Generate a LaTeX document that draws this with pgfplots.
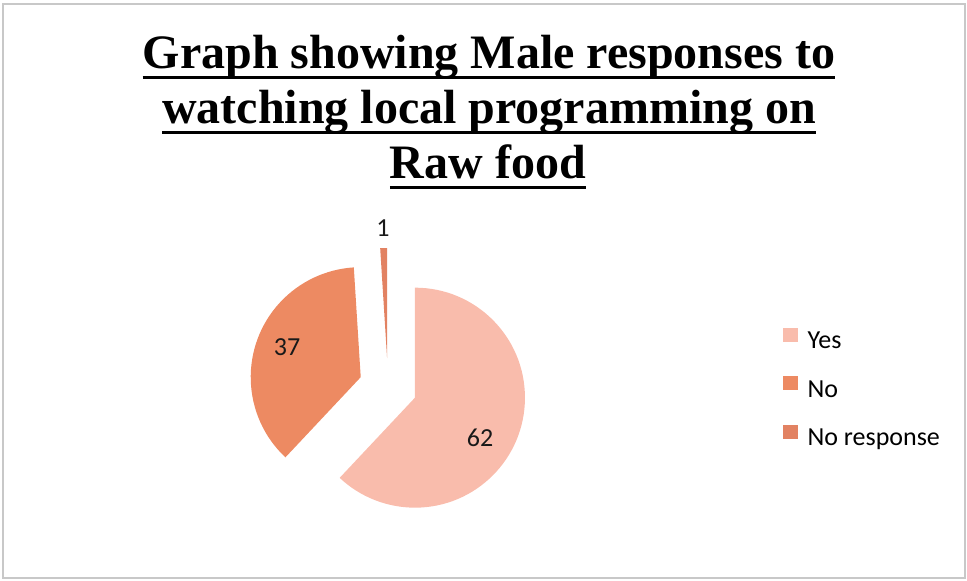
\documentclass[border=0pt]{standalone}
\usepackage{pgfplots}
\usepackage{pgfplotstable}
\pgfplotsset{compat=1.18}
\usepackage{fontspec}
\setmainfont{Carlito}
\newfontfamily\titlefont{Liberation Serif}
\definecolor{yescol}{RGB}{249,188,172}
\definecolor{nocol}{RGB}{237,138,98}
\definecolor{nrcol}{RGB}{226,130,98}
\definecolor{bordercol}{RGB}{200,200,200}
\newcommand\labelfont{\fontsize{26}{30}\selectfont}
\newcommand\legfont{\fontsize{26}{30}\selectfont}
\newcommand\ttlfont{\titlefont\bfseries\fontsize{48}{55}\selectfont}
\newcommand\ul[1]{\setbox0\hbox{#1}\rlap{\rule[-10.5pt]{\wd0}{3pt}}\box0}

\pgfplotstableread[col sep=comma]{
label,value,lx,ly,col
Yes,62,480,143,yescol
No,37,287,234,nocol
No response,1,383,353,nrcol
}\piedata

\begin{document}
\begin{tikzpicture}
\begin{axis}[
  width=967pt, height=581pt, scale only axis,
  xmin=0, xmax=967, ymin=0, ymax=581,
  axis lines=none, clip=false,
  legend style={at={(axis cs:783,253)}, anchor=north west, draw=none, fill=none,
    inner sep=0pt, font=\legfont, row sep=24pt, column sep=8pt,
    legend cell align=left},
]
\path (axis cs:0,0) rectangle (axis cs:967,581);
\draw[bordercol, line width=1.5pt] (axis cs:3,3) rectangle (axis cs:965,577);

\node[anchor=base, font=\ttlfont] at (axis cs:489,512) {\ul{Graph showing Male responses to}};
\node[anchor=base, font=\ttlfont] at (axis cs:489,457) {\ul{watching local programming on}};
\node[anchor=base, font=\ttlfont] at (axis cs:488,402) {\ul{Raw food}};

\pgfplotstablegetrowsof{\piedata}
\pgfmathtruncatemacro\nrows{\pgfplotsretval-1}
\gdef\cumul{0}
\foreach \i in {0,...,\nrows}{
  \pgfplotstablegetelem{\i}{value}\of\piedata \let\val\pgfplotsretval
  \pgfplotstablegetelem{\i}{col}\of\piedata \let\col\pgfplotsretval
  \pgfplotstablegetelem{\i}{lx}\of\piedata \let\lx\pgfplotsretval
  \pgfplotstablegetelem{\i}{ly}\of\piedata \let\ly\pgfplotsretval
  \pgfmathsetmacro\aS{90-3.6*\cumul}
  \pgfmathsetmacro\aE{90-3.6*(\cumul+\val)}
  \pgfmathsetmacro\aM{(\aS+\aE)/2}
  \pgfmathsetmacro\vx{388+29*cos(\aM)}
  \pgfmathsetmacro\vy{194+29*sin(\aM)}
  \edef\temp{\noexpand\fill[\col] (axis cs:\vx,\vy) -- ++(\aS:110pt) arc[start angle=\aS, end angle=\aE, radius=110pt] -- cycle;
    \noexpand\node[font=\noexpand\labelfont, text=black!90] at (axis cs:\lx,\ly) {\val};}
  \temp
  \pgfmathsetmacro\newc{\cumul+\val}
  \xdef\cumul{\newc}
}

\addlegendimage{legend image code/.code={\fill[yescol] (0pt,0pt) rectangle (14pt,13pt);}}
\addlegendentry{Yes}
\addlegendimage{legend image code/.code={\fill[nocol] (0pt,0pt) rectangle (14pt,13pt);}}
\addlegendentry{No}
\addlegendimage{legend image code/.code={\fill[nrcol] (0pt,0pt) rectangle (14pt,13pt);}}
\addlegendentry{No response}
\end{axis}
\end{tikzpicture}
\end{document}
